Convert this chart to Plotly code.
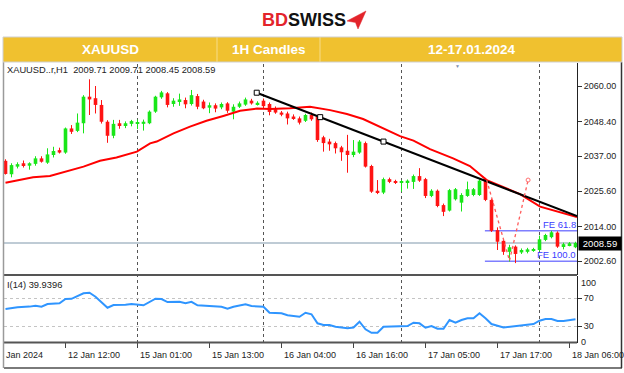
import plotly.graph_objects as go

W, H = 624, 373
FONT = "Liberation Sans, Arial, sans-serif"

# ---------------- data ----------------
bar_idx = list(range(96))
opens = [2035.5, 2031.1, 2033.6, 2034.7, 2033.9, 2034.5, 2036.3, 2034.9, 2037.4, 2039.0,
         2038.2, 2046.1, 2045.3, 2047.8, 2056.5, 2056.0, 2053.8, 2048.3, 2043.7, 2047.8,
         2047.2, 2047.6, 2047.6, 2047.6, 2047.8, 2051.6, 2056.3, 2057.6, 2054.1, 2055.0,
         2055.4, 2054.1, 2056.7, 2054.9, 2052.9, 2053.7, 2053.0, 2054.3, 2051.6, 2053.2,
         2053.9, 2055.2, 2054.1, 2055.2, 2054.1, 2052.4, 2051.3, 2051.0, 2050.0, 2049.4,
         2048.6, 2050.5, 2050.0, 2043.2, 2041.8, 2041.3, 2039.9, 2038.8, 2037.4, 2038.2,
         2041.3, 2033.8, 2025.7, 2025.1, 2029.5, 2028.8, 2028.4, 2028.4, 2028.6, 2030.5,
         2029.5, 2024.0, 2025.7, 2021.0, 2019.2, 2022.9, 2021.8, 2024.0, 2024.3, 2024.3,
         2029.5, 2022.7, 2012.8, 2009.3, 2005.7, 2007.4, 2005.5, 2005.7, 2006.1, 2006.3,
         2009.6, 2010.5, 2012.0, 2007.6, 2007.9, 2007.2]
highs = [2036.0, 2034.7, 2035.0, 2035.6, 2035.0, 2037.0, 2037.0, 2039.6, 2040.1, 2039.8,
         2046.4, 2047.2, 2051.0, 2057.0, 2062.2, 2060.0, 2055.4, 2048.8, 2048.9, 2048.9,
         2048.4, 2048.9, 2049.0, 2049.0, 2052.0, 2056.8, 2058.4, 2058.0, 2056.0, 2057.5,
         2056.2, 2058.7, 2057.4, 2055.5, 2054.6, 2054.3, 2054.6, 2054.7, 2054.0, 2054.9,
         2056.2, 2055.8, 2055.0, 2055.9, 2054.6, 2053.3, 2051.8, 2051.6, 2050.7, 2050.0,
         2050.9, 2051.3, 2050.6, 2043.7, 2042.7, 2041.8, 2040.4, 2044.0, 2042.3, 2042.3,
         2041.8, 2034.2, 2029.2, 2030.0, 2030.0, 2029.3, 2029.2, 2029.4, 2031.0, 2033.1,
         2029.9, 2026.2, 2026.1, 2021.5, 2026.3, 2026.6, 2024.9, 2028.7, 2026.6, 2029.4,
         2029.9, 2023.1, 2013.7, 2009.8, 2008.0, 2007.8, 2006.8, 2007.0, 2007.0, 2011.0,
         2011.6, 2012.6, 2012.4, 2008.7, 2008.9, 2009.0]
lows = [2031.0, 2030.1, 2033.0, 2033.3, 2032.6, 2033.9, 2034.9, 2034.5, 2036.6, 2037.9,
        2037.8, 2044.3, 2044.9, 2044.5, 2050.5, 2051.0, 2047.7, 2041.4, 2042.9, 2046.0,
        2046.2, 2046.8, 2045.9, 2045.4, 2047.5, 2051.2, 2055.8, 2053.0, 2053.2, 2053.5,
        2052.7, 2053.6, 2052.4, 2052.4, 2051.1, 2051.4, 2052.4, 2051.2, 2049.1, 2052.8,
        2053.5, 2053.9, 2053.6, 2052.9, 2050.4, 2050.9, 2050.1, 2047.4, 2048.9, 2047.4,
        2048.2, 2048.6, 2041.7, 2038.5, 2038.8, 2037.9, 2035.5, 2031.6, 2036.7, 2037.8,
        2033.3, 2025.0, 2024.6, 2024.6, 2028.2, 2027.9, 2025.4, 2026.4, 2026.3, 2028.6,
        2023.3, 2023.6, 2020.3, 2017.4, 2018.9, 2022.5, 2018.9, 2023.7, 2023.9, 2024.0,
        2022.3, 2012.2, 2006.3, 2004.7, 2002.5, 2002.0, 2005.0, 2005.2, 2005.7, 2005.9,
        2009.2, 2010.1, 2007.0, 2006.5, 2007.5, 2006.9]
closes = [2031.2, 2034.1, 2034.4, 2033.8, 2034.7, 2036.3, 2035.2, 2037.6, 2038.7, 2038.2,
          2046.1, 2045.0, 2048.0, 2056.5, 2055.6, 2053.8, 2048.3, 2043.7, 2047.6, 2047.2,
          2047.8, 2048.5, 2048.0, 2048.3, 2051.6, 2056.5, 2057.9, 2053.8, 2055.2, 2055.6,
          2054.0, 2057.0, 2053.2, 2052.7, 2053.7, 2052.6, 2054.1, 2051.9, 2053.2, 2054.3,
          2055.6, 2054.3, 2054.5, 2053.4, 2051.5, 2051.3, 2050.6, 2049.4, 2049.4, 2048.0,
          2050.5, 2049.1, 2042.3, 2041.3, 2040.9, 2039.6, 2038.3, 2037.4, 2038.5, 2041.8,
          2033.6, 2025.4, 2025.1, 2029.5, 2028.6, 2028.4, 2028.7, 2029.0, 2030.5, 2029.0,
          2024.0, 2025.7, 2020.7, 2018.8, 2025.9, 2026.2, 2024.3, 2026.2, 2026.2, 2029.0,
          2022.7, 2012.6, 2009.0, 2005.7, 2007.2, 2005.0, 2006.3, 2006.5, 2006.6, 2009.8,
          2011.2, 2012.1, 2007.4, 2008.2, 2008.5, 2008.59]

ma_k = [0, 4.6, 7.4, 10.2, 13, 15.75, 18.5, 21.9, 24.1, 25.2, 28, 30.75, 33.5, 36.3, 39.1,
        41.9, 44.1, 47.4, 50.75, 54.1, 56.9, 59.6, 62.4, 65.75, 68, 70.75, 74.6, 77.4,
        80.2, 83, 85.75, 89.1, 92.4, 95.25]
ma_v = [2028.3, 2030.1, 2030.5, 2032.0, 2033.6, 2035.5, 2036.6, 2038.5, 2041.2, 2041.8,
        2044.5, 2046.7, 2048.6, 2050.2, 2051.9, 2052.6, 2052.5, 2052.7, 2053.2, 2052.1,
        2050.8, 2049.2, 2046.7, 2043.6, 2042.1, 2039.3, 2036.3, 2033.8, 2029.2, 2026.8,
        2024.6, 2020.5, 2018.8, 2017.1]

ind_k = [0, 2, 4, 5, 6, 7, 9, 10, 11, 13, 14, 15, 17, 18, 20, 21, 23, 25, 26, 27, 29, 30,
         31, 32, 36, 37, 38, 40, 41, 43, 44, 46, 47, 49, 50, 51, 52, 53, 54, 55, 57, 58,
         59, 60, 61, 62, 63, 66, 67, 68, 69, 70, 71, 72, 73, 74, 75, 76, 77, 78, 79, 80,
         81, 83, 85, 87, 88, 89, 90, 91, 92, 93, 95]
ind_v = [54.5, 57.0, 58.0, 59.3, 57.9, 61.8, 62.8, 69.0, 69.3, 77.2, 78.1, 72.3, 56.4, 60.3,
         60.8, 61.8, 59.9, 69.4, 69.0, 64.6, 65.0, 62.8, 65.0, 59.9, 57.9, 55.0, 57.9, 61.3,
         58.9, 57.9, 49.2, 48.3, 45.5, 43.4, 49.2, 46.9, 33.9, 31.5, 31.5, 29.0, 26.7, 27.8,
         36.2, 25.3, 20.3, 20.3, 29.0, 30.0, 30.0, 34.8, 33.9, 27.6, 30.0, 26.1, 26.1, 38.7,
         34.8, 38.7, 41.1, 41.1, 48.3, 41.1, 32.9, 27.8, 30.0, 31.5, 32.9, 37.7, 40.1, 40.1,
         37.2, 37.2, 39.94]

time_tick_k = [10, 22, 34, 46, 58, 70, 82, 94]
time_tick_labels = ["12 Jan 12:00", "15 Jan 01:00", "15 Jan 13:00", "16 Jan 04:00",
                    "16 Jan 16:00", "17 Jan 05:00", "17 Jan 17:00", "18 Jan 06:00"]
separator_k = [22, 43, 66, 89]
price_ticks = [2002.6, 2014.0, 2025.6, 2037.0, 2048.4, 2060.0]
ind_ticks = [70, 30]

trend_k = [41.87, 52.45, 63.0]
trend_p = [2057.8, 2049.8, 2041.8]

fe_levels = [2012.6, 2002.6]
fe_labels = ["FE 61.8", "FE 100.0"]
fe_start_k = 79.9
zig_k = [80.2, 84.0, 87.1]
zig_p = [2029.2, 2002.8, 2029.2]

last_price = 2008.59
status_text = "XAUUSD..r,H1  2009.71 2009.71 2008.45 2008.59"
ind_text = "I(14) 39.9396"

# ---------------- layout helpers ----------------
def px(x):
    return x / W


def py(y):
    return 1 - y / H


X_RANGE = [-0.25, 95.25]
Y_RANGE = [1998.11, 2067.53]
Y2_RANGE = [5.5, 102.2]
GREEN = "#19e619"
RED = "#ff1414"

fig = go.Figure()

# wicks
for col, cond in ((GREEN, True), (RED, False)):
    wx, wy = [], []
    for k, o, h, l, c in zip(bar_idx, opens, highs, lows, closes):
        if (c >= o) == cond:
            wx += [k, k, None]
            wy += [l, h, None]
    fig.add_trace(go.Scatter(x=wx, y=wy, mode="lines", line=dict(color=col, width=1),
                             hoverinfo="skip", showlegend=False))

# bodies
for col, cond in ((GREEN, True), (RED, False)):
    bx, bb, bh = [], [], []
    for k, o, c in zip(bar_idx, opens, closes):
        if (c >= o) == cond:
            bx.append(k)
            bb.append(min(o, c))
            bh.append(abs(c - o))
    fig.add_trace(go.Bar(x=bx, y=bh, base=bb, width=0.6, marker=dict(color=col, line=dict(width=0)),
                         showlegend=False, hoverinfo="skip"))

# moving average
fig.add_trace(go.Scatter(x=ma_k, y=ma_v, mode="lines", line=dict(color="#ff0000", width=2),
                         showlegend=False, hoverinfo="skip"))

# trendline (ray through anchors)
slope = (trend_p[-1] - trend_p[0]) / (trend_k[-1] - trend_k[0])
end_k = X_RANGE[1]
fig.add_trace(go.Scatter(x=[trend_k[0], end_k], y=[trend_p[0], trend_p[0] + slope * (end_k - trend_k[0])],
                         mode="lines", line=dict(color="#000000", width=2), showlegend=False,
                         hoverinfo="skip"))
fig.add_trace(go.Scatter(x=trend_k, y=trend_p, mode="markers",
                         marker=dict(symbol="square", size=5, color="white",
                                     line=dict(color="black", width=1)),
                         showlegend=False, hoverinfo="skip"))

# FE construction (dotted)
fig.add_trace(go.Scatter(x=zig_k, y=zig_p, mode="lines", line=dict(color="#ff5a5a", width=1.3, dash="dot"),
                         showlegend=False, hoverinfo="skip"))
fig.add_trace(go.Scatter(x=[zig_k[-1]], y=[zig_p[-1]], mode="markers",
                         marker=dict(symbol="circle-open", size=4, color="#ff7070"),
                         showlegend=False, hoverinfo="skip"))

# indicator
fig.add_trace(go.Scatter(x=ind_k, y=ind_v, mode="lines", line=dict(color="#2f95ff", width=2),
                         xaxis="x2", yaxis="y2", showlegend=False, hoverinfo="skip"))

shapes = []
# current price line
shapes.append(dict(type="line", xref="x", yref="y", x0=X_RANGE[0], x1=X_RANGE[1],
                   y0=last_price, y1=last_price, line=dict(color="#7f97ab", width=1), layer="below"))
# FE levels
for lv in fe_levels:
    shapes.append(dict(type="line", xref="x", yref="y", x0=fe_start_k, x1=X_RANGE[1],
                       y0=lv, y1=lv, line=dict(color="#7f7fff", width=1.5), layer="below"))
# period separators
for k in separator_k:
    shapes.append(dict(type="line", xref="x", yref="paper", x0=k, x1=k, y0=py(343), y1=py(63),
                       line=dict(color="#555555", width=1, dash="dot"), layer="below"))
# time tick marks
for k in time_tick_k:
    shapes.append(dict(type="line", xref="x", yref="paper", x0=k, x1=k, y0=py(343), y1=py(348),
                       line=dict(color="#444444", width=1)))
# panel borders
for yy in (275, 342.5):
    shapes.append(dict(type="line", xref="paper", yref="paper", x0=px(4), x1=px(577), y0=py(yy), y1=py(yy),
                       line=dict(color="#555555", width=2)))
shapes.append(dict(type="line", xref="paper", yref="paper", x0=px(4), x1=px(622), y0=py(368), y1=py(368),
                   line=dict(color="#7a7a7a", width=2)))
shapes.append(dict(type="line", xref="paper", yref="paper", x0=px(3.5), x1=px(3.5), y0=py(62), y1=py(368),
                   line=dict(color="#9a9a9a", width=1.5)))
shapes.append(dict(type="line", xref="paper", yref="paper", x0=px(621.5), x1=px(621.5), y0=py(62), y1=py(368),
                   line=dict(color="#333333", width=1.5)))
# header band
shapes.append(dict(type="rect", xref="paper", yref="paper", x0=px(3), x1=px(622), y0=py(62), y1=py(37),
                   fillcolor="#f0c12f", line=dict(color="#cfcfcf", width=1)))
for xx in (217, 320):
    shapes.append(dict(type="line", xref="paper", yref="paper", x0=px(xx), x1=px(xx), y0=py(62), y1=py(37),
                       line=dict(color="#f6dc8a", width=1)))
# logo mark (red arrow)
pts = [(347, 21), (366, 11), (358, 29), (355.5, 22.5)]
path = "M " + " L ".join(f"{px(a):.5f},{py(b):.5f}" for a, b in pts) + " Z"
shapes.append(dict(type="path", xref="paper", yref="paper", path=path, fillcolor="#e3242b",
                   line=dict(color="#e3242b", width=0.5)))

ann = []
# logo text
ann.append(dict(xref="paper", yref="paper", x=px(303.5), y=py(20), xanchor="center", yanchor="middle",
                text="<b><span style='color:#e3242b'>BD</span><span style='color:#111111'>SWISS</span></b>",
                showarrow=False, font=dict(family=FONT, size=18)))
# header texts
for xc, t in ((110.5, "XAUUSD"), (268.5, "1H Candles"), (471.5, "12-17.01.2024")):
    ann.append(dict(xref="paper", yref="paper", x=px(xc), y=py(49.5), xanchor="center", yanchor="middle",
                    text=f"<b>{t}</b>", showarrow=False, font=dict(family=FONT, size=13.5, color="white")))
# status texts
ann.append(dict(xref="paper", yref="paper", x=px(5), y=py(70), xanchor="left", yanchor="middle",
                text=status_text.replace("  ", "&nbsp;&nbsp;"), showarrow=False,
                font=dict(family=FONT, size=9.3, color="#222222")))
ann.append(dict(xref="paper", yref="paper", x=px(5), y=py(284.5), xanchor="left", yanchor="middle",
                text=ind_text, showarrow=False, font=dict(family=FONT, size=9.3, color="#222222")))
# time labels
ann.append(dict(xref="paper", yref="paper", x=px(4), y=py(355), xanchor="left", yanchor="middle",
                text="Jan 2024", showarrow=False, font=dict(family=FONT, size=9, color="#222222")))
for k, t in zip(time_tick_k, time_tick_labels):
    ann.append(dict(xref="x2", yref="paper", x=k, y=py(355), xanchor="left", yanchor="middle",
                    text=t, showarrow=False, font=dict(family=FONT, size=9, color="#222222")))
# indicator edge labels
for yy, t in ((282.7, "100"), (341.7, "0")):
    ann.append(dict(xref="paper", yref="paper", x=px(579), y=py(yy), xanchor="left", yanchor="middle",
                    text=t, showarrow=False, font=dict(family=FONT, size=9, color="#222222")))
# current price box
ann.append(dict(xref="paper", yref="y", x=px(578), y=last_price, xanchor="left", yanchor="middle",
                text=f"{last_price:.2f}", showarrow=False, bgcolor="#000000", borderpad=1, width=40,
                align="center", font=dict(family=FONT, size=9.5, color="white")))
# FE labels
for lv, t in zip(fe_levels, fe_labels):
    ann.append(dict(xref="x", yref="y", x=X_RANGE[1], y=lv, xanchor="right", yanchor="bottom",
                    text=t, showarrow=False, font=dict(family=FONT, size=9.5, color="#3b3bff"),
                    borderpad=0))
# shift marker
ann.append(dict(xref="paper", yref="paper", x=px(458), y=py(65.5), xanchor="center", yanchor="middle",
                text="▼", showarrow=False, font=dict(size=5, color="#8090b0")))

fig.update_layout(
    width=W, height=H, margin=dict(l=0, r=0, t=0, b=0),
    paper_bgcolor="white", plot_bgcolor="white",
    barmode="overlay", showlegend=False,
    shapes=shapes, annotations=ann,
    xaxis=dict(domain=[px(4), px(577)], range=X_RANGE, anchor="y", showticklabels=False,
               showgrid=False, zeroline=False, showline=False, ticks=""),
    xaxis2=dict(domain=[px(4), px(577)], range=X_RANGE, anchor="y2", matches="x", showticklabels=False,
                showgrid=False, zeroline=False, showline=False, ticks=""),
    yaxis=dict(domain=[py(275), py(63)], range=Y_RANGE, anchor="x", side="right",
               tickvals=price_ticks, ticktext=[f"{v:.2f}" for v in price_ticks],
               ticks="outside", ticklen=4, tickcolor="#333333",
               showline=True, linecolor="#222222", linewidth=1, showgrid=False, zeroline=False,
               tickfont=dict(family=FONT, size=9, color="#222222")),
    yaxis2=dict(domain=[py(343), py(276)], range=Y2_RANGE, anchor="x2", side="right",
                tickvals=ind_ticks, ticktext=[str(v) for v in ind_ticks],
                ticks="outside", ticklen=4, tickcolor="#333333",
                showline=True, linecolor="#222222", linewidth=1,
                showgrid=True, gridcolor="#c4c4c4", griddash="dot", zeroline=False,
                tickfont=dict(family=FONT, size=9, color="#222222")),
)

fig.write_html("out.html")
